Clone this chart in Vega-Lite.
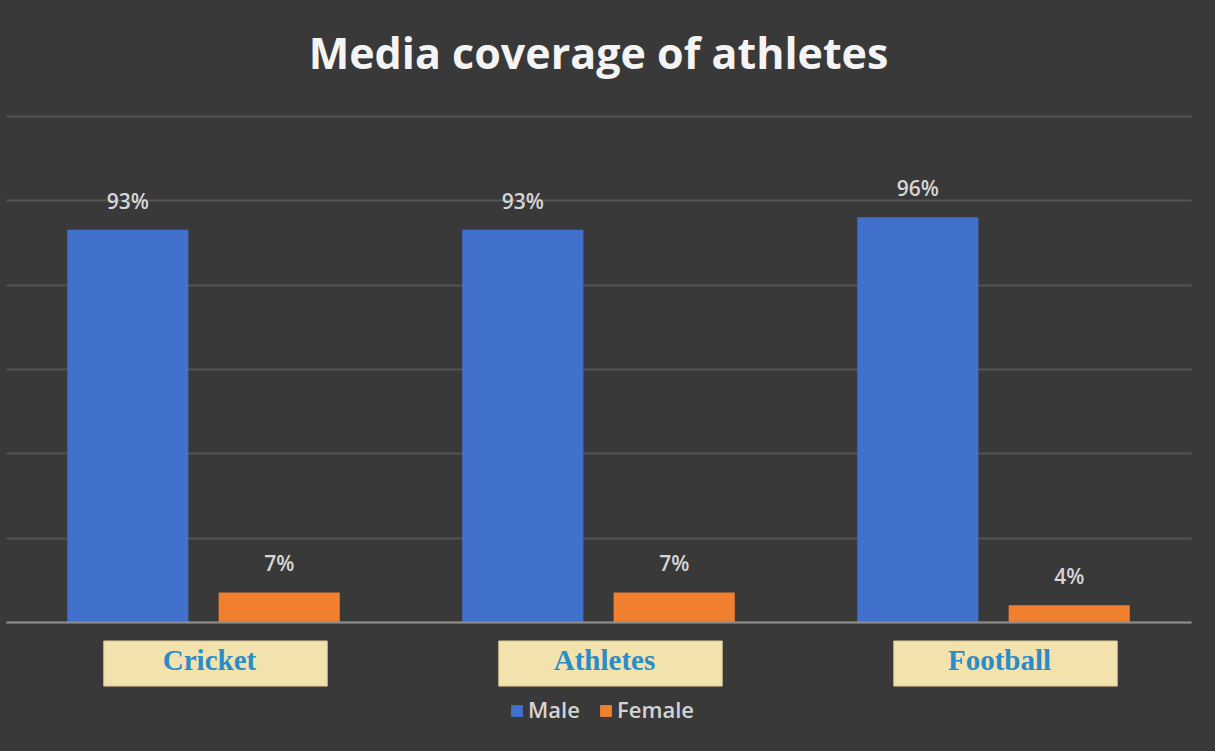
{
  "$schema": "https://vega.github.io/schema/vega-lite/v6.json",
  "width": 1185,
  "height": 506,
  "autosize": {"type": "none"},
  "padding": {"left": 6, "top": 116, "right": 24, "bottom": 129},
  "background": "#393939",
  "config": {"view": {"stroke": null}},
  "title": {
    "text": "Media coverage of athletes",
    "anchor": "middle",
    "font": "Open Sans",
    "fontSize": 43,
    "fontWeight": "bold",
    "color": "#f4f4f4",
    "offset": 38
  },
  "data": {
    "values": [
      {"sport": "Cricket", "gender": "Male", "share": 0.93},
      {"sport": "Cricket", "gender": "Female", "share": 0.07},
      {"sport": "Athletes", "gender": "Male", "share": 0.93},
      {"sport": "Athletes", "gender": "Female", "share": 0.07},
      {"sport": "Football", "gender": "Male", "share": 0.96},
      {"sport": "Football", "gender": "Female", "share": 0.04}
    ]
  },
  "encoding": {
    "x": {
      "field": "sport",
      "type": "nominal",
      "sort": ["Cricket", "Athletes", "Football"],
      "scale": {"paddingInner": 0.31, "paddingOuter": 0.155},
      "axis": {
        "title": null,
        "labels": false,
        "ticks": false,
        "domainColor": "#8e8e8e",
        "domainWidth": 2,
        "zindex": 1
      }
    }
  },
  "layer": [
    {
      "mark": {"type": "bar"},
      "encoding": {
        "xOffset": {
          "field": "gender",
          "type": "nominal",
          "scale": {"domain": ["Male", "Female"], "paddingInner": 0.2, "paddingOuter": 0}
        },
        "y": {
          "field": "share",
          "type": "quantitative",
          "scale": {"domain": [0, 1.2], "nice": false},
          "axis": {
            "title": null,
            "labels": false,
            "ticks": false,
            "domain": false,
            "values": [0, 0.2, 0.4, 0.6, 0.8, 1.0, 1.2],
            "gridColor": "#545454",
            "gridWidth": 2
          }
        },
        "color": {
          "field": "gender",
          "type": "nominal",
          "scale": {"domain": ["Male", "Female"], "range": ["#4171cc", "#F07F2E"]},
          "legend": {
            "title": null,
            "orient": "none",
            "direction": "horizontal",
            "legendX": 500,
            "legendY": 584,
            "padding": 0,
            "symbolType": "square",
            "symbolSize": 140,
            "symbolStrokeWidth": 0,
            "labelFont": "Open Sans",
            "labelFontSize": 22,
            "labelFontWeight": 600,
            "labelColor": "#d4d4d4",
            "labelOffset": 0,
            "columnPadding": 15
          }
        }
      }
    },
    {
      "mark": {
        "type": "text",
        "font": "Open Sans",
        "fontSize": 21,
        "fontWeight": 600,
        "color": "#d6d6d6",
        "baseline": "alphabetic",
        "dy": -21
      },
      "encoding": {
        "xOffset": {
          "field": "gender",
          "type": "nominal",
          "scale": {"domain": ["Male", "Female"], "paddingInner": 0.2, "paddingOuter": 0}
        },
        "y": {"field": "share", "type": "quantitative"},
        "text": {"field": "share", "type": "quantitative", "format": ".0%"}
      }
    },
    {
      "transform": [{"filter": "datum.gender == 'Male'"}],
      "mark": {
        "type": "bar",
        "width": {"band": 0.82},
        "xOffset": 12,
        "color": "#f2e2ae",
        "stroke": "#d8c68e",
        "strokeWidth": 1
      },
      "encoding": {
        "y": {"datum": -0.045},
        "y2": {"datum": -0.152}
      }
    },
    {
      "transform": [{"filter": "datum.gender == 'Male'"}],
      "mark": {
        "type": "text",
        "font": "Liberation Serif",
        "fontSize": 29,
        "fontWeight": "bold",
        "color": "#2a8cc8",
        "baseline": "alphabetic",
        "xOffset": 6
      },
      "encoding": {
        "y": {"datum": -0.113},
        "text": {"field": "sport", "type": "nominal"}
      }
    }
  ]
}
